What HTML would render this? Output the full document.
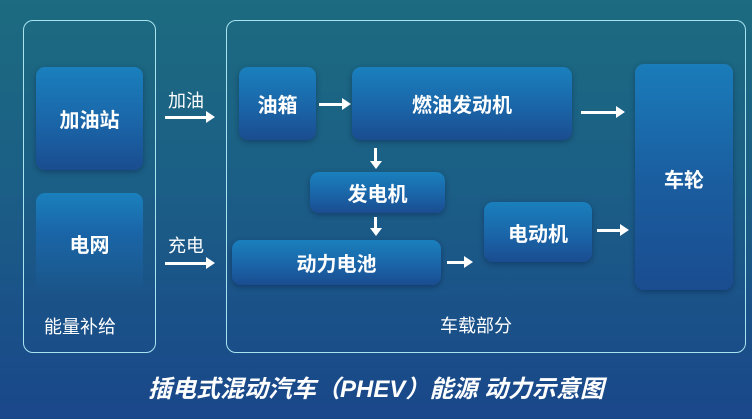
<!DOCTYPE html>
<html><head><meta charset="utf-8"><style>
body{margin:0;width:752px;height:419px;overflow:hidden;background:linear-gradient(180deg,#1c6b80 0%,#1b5e86 45%,#1a478a 100%);font-family:"Liberation Sans","Noto Sans CJK SC",sans-serif;color:#fff;position:relative}
.p{position:absolute;border:1.5px solid #a8e4f0;border-radius:10px}
.b{position:absolute;border-radius:9px;background:linear-gradient(180deg,#1a80bd 0%,#1a65a8 55%,#1a4d90 100%);display:flex;align-items:center;justify-content:center;font-weight:bold;font-size:20px;box-shadow:0 2px 6px rgba(0,0,40,.3)}
.t{position:absolute;font-size:18px;white-space:nowrap}
.a{position:absolute;height:3px;background:#fff}
.a:after{content:"";position:absolute;right:-8px;top:-5px;border-left:9px solid #fff;border-top:6.5px solid transparent;border-bottom:6.5px solid transparent}
.d{position:absolute;width:3px;background:#fff}
.d:after{content:"";position:absolute;bottom:-7px;left:-4.5px;border-top:8px solid #fff;border-left:6px solid transparent;border-right:6px solid transparent}
</style></head><body>
<div class="p" style="left:23px;top:20px;width:131px;height:331px"></div>
<div class="p" style="left:226px;top:20px;width:518px;height:331px"></div>
<div class="b" style="left:36px;top:67px;width:107px;height:103px">加油站</div>
<div class="b" style="left:36px;top:193px;width:107px;height:100px;background:linear-gradient(180deg,#1a80bd 0%,#1a65a8 40%,rgba(26,77,144,0) 100%);box-shadow:none;align-items:flex-start;padding-top:0"><span style="margin-top:36px">电网</span></div>
<div class="t" style="left:44px;top:313px">能量补给</div>
<div class="t" style="left:168px;top:87px">加油</div>
<div class="a" style="left:165px;top:116px;width:42px"></div>
<div class="t" style="left:168px;top:232px">充电</div>
<div class="a" style="left:165px;top:262px;width:42px"></div>
<div class="b" style="left:239px;top:67px;width:77px;height:73px">油箱</div>
<div class="a" style="left:319px;top:103px;width:24px"></div>
<div class="b" style="left:352px;top:67px;width:220px;height:73px">燃油发动机</div>
<div class="a" style="left:581px;top:111px;width:36px"></div>
<div class="b" style="left:635px;top:64px;width:98px;height:226px;background:linear-gradient(180deg,#1a7cba 0%,#1a5ea0 50%,#1a4d90 100%);align-items:flex-start"><span style="margin-top:100px">车轮</span></div>
<div class="d" style="left:374px;top:148px;height:14px"></div>
<div class="b" style="left:310px;top:172px;width:135px;height:41px">发电机</div>
<div class="d" style="left:374px;top:217px;height:12px"></div>
<div class="b" style="left:232px;top:240px;width:209px;height:45px">动力电池</div>
<div class="a" style="left:447px;top:261px;width:18px"></div>
<div class="b" style="left:484px;top:202px;width:108px;height:60px">电动机</div>
<div class="a" style="left:597px;top:229px;width:24px"></div>
<div class="t" style="left:440px;top:312px">车载部分</div>
<div style="position:absolute;left:0;width:752px;top:369px;text-align:center;font-size:24px;font-weight:bold;font-style:italic">插电式混动汽车（PHEV）能源 动力示意图</div>
</body></html>
